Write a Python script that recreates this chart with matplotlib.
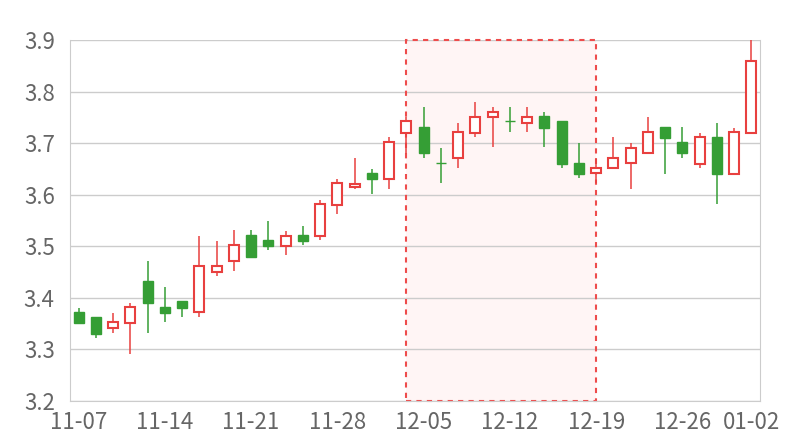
import matplotlib
matplotlib.use("Agg")
import matplotlib.pyplot as plt
from matplotlib.patches import Rectangle

# Trading days (category axis)
dates = [
    "11-07", "11-08", "11-09", "11-10", "11-11",
    "11-14", "11-15", "11-16", "11-17", "11-18",
    "11-21", "11-22", "11-23", "11-24", "11-25",
    "11-28", "11-29", "11-30", "12-01", "12-02",
    "12-05", "12-06", "12-07", "12-08", "12-09",
    "12-12", "12-13", "12-14", "12-15", "12-16",
    "12-19", "12-20", "12-21", "12-22", "12-23",
    "12-26", "12-27", "12-28", "12-29", "01-02",
]
opens = [
    3.373, 3.363, 3.342, 3.351, 3.433, 3.383, 3.393, 3.372, 3.451, 3.471,
    3.522, 3.512, 3.501, 3.522, 3.520, 3.581, 3.615, 3.643, 3.630, 3.720,
    3.732, 3.661, 3.671, 3.720, 3.751, 3.742, 3.740, 3.752, 3.742, 3.662,
    3.642, 3.651, 3.661, 3.680, 3.731, 3.702, 3.660, 3.711, 3.640, 3.720,
]
closes = [
    3.351, 3.330, 3.353, 3.382, 3.391, 3.371, 3.381, 3.462, 3.462, 3.502,
    3.480, 3.501, 3.520, 3.511, 3.582, 3.622, 3.621, 3.630, 3.702, 3.742,
    3.680, 3.661, 3.721, 3.751, 3.761, 3.742, 3.751, 3.730, 3.660, 3.640,
    3.652, 3.672, 3.691, 3.721, 3.710, 3.680, 3.711, 3.640, 3.721, 3.860,
]
highs = [
    3.381, 3.363, 3.371, 3.391, 3.471, 3.421, 3.393, 3.520, 3.511, 3.531,
    3.531, 3.550, 3.530, 3.540, 3.590, 3.630, 3.671, 3.650, 3.711, 3.750,
    3.770, 3.690, 3.740, 3.780, 3.770, 3.770, 3.770, 3.760, 3.742, 3.700,
    3.671, 3.711, 3.700, 3.750, 3.731, 3.731, 3.720, 3.740, 3.730, 3.900,
]
lows = [
    3.351, 3.322, 3.332, 3.292, 3.332, 3.353, 3.362, 3.362, 3.442, 3.452,
    3.480, 3.493, 3.483, 3.502, 3.513, 3.562, 3.612, 3.602, 3.612, 3.679,
    3.672, 3.622, 3.652, 3.712, 3.692, 3.722, 3.722, 3.692, 3.652, 3.632,
    3.622, 3.651, 3.612, 3.680, 3.641, 3.672, 3.651, 3.582, 3.640, 3.720,
]
highlight = ("12-02", "12-19")
tick_every = 5

UP = "#e8403f"
DOWN = "#359e35"
TEXT = "#666666"
GRID = "#cccccc"

plt.rcParams["font.family"] = ["Noto Sans CJK SC", "DejaVu Sans"]

fig = plt.figure(figsize=(8, 4.4), dpi=100)
ax = fig.add_axes([0.0875, 0.0886, 0.8625, 0.8205])

xs = list(range(len(dates)))
width = 0.58

for x, o, c, h, l in zip(xs, opens, closes, highs, lows):
    up = c > o
    color = UP if up else DOWN
    ax.vlines(x, l, h, color=color, lw=1.1, zorder=2)
    bottom = min(o, c)
    height = abs(c - o)
    if up:
        ax.bar(x, height, width, bottom=bottom, facecolor="white",
               edgecolor=color, linewidth=1.5, zorder=3)
    else:
        ax.bar(x, height, width, bottom=bottom, facecolor=color,
               edgecolor=color, linewidth=1.0, zorder=3)

# highlighted range
x0 = dates.index(highlight[0])
x1 = dates.index(highlight[1])
ax.axvspan(x0, x1, facecolor="#fff5f5", edgecolor="none", zorder=0.3)
ax.add_patch(Rectangle((x0, 3.2), x1 - x0, 0.7, fill=False,
                       edgecolor="#ee4c4c", linestyle=(0, (2.5, 2.5)),
                       linewidth=1.5, zorder=1, clip_on=False))

ax.set_xlim(-0.5, len(dates) - 0.5)
ax.set_ylim(3.2, 3.9)
ax.set_yticks([3.2, 3.3, 3.4, 3.5, 3.6, 3.7, 3.8, 3.9])

tick_idx = list(range(0, len(dates), tick_every))
if tick_idx[-1] != len(dates) - 1:
    tick_idx.append(len(dates) - 1)
ax.set_xticks(tick_idx)
ax.set_xticklabels([dates[i] for i in tick_idx])

ax.set_axisbelow(True)
ax.grid(axis="y", color=GRID, linewidth=1)
ax.tick_params(axis="both", length=0, labelsize=16, colors=TEXT)
ax.tick_params(axis="y", pad=11)
ax.tick_params(axis="x", pad=7)
for side in ["left", "right", "bottom"]:
    ax.spines[side].set_color(GRID)
ax.spines["top"].set_visible(False)

fig.savefig("out.png", dpi=100)
